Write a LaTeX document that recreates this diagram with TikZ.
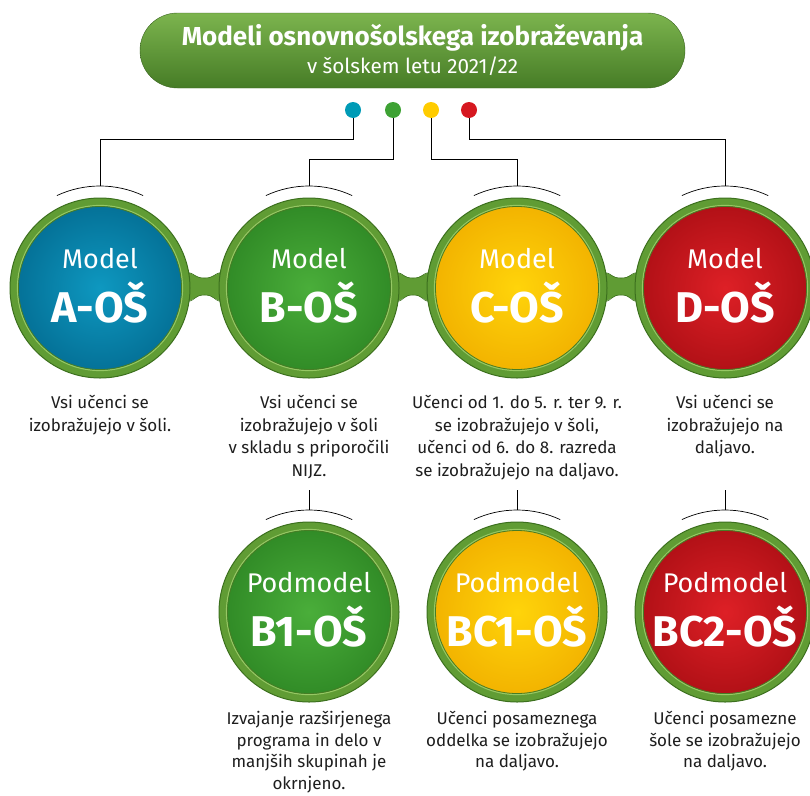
\documentclass[tikz,border=0pt]{standalone}
\usepackage{fontspec}
\setmainfont{Fira Sans}
\definecolor{ringG}{RGB}{96,156,52}
\definecolor{ringD}{RGB}{60,112,30}
\definecolor{ringL}{RGB}{150,200,100}
\definecolor{tealC}{RGB}{14,152,192}
\definecolor{tealD}{RGB}{4,112,150}
\definecolor{greenC}{RGB}{74,174,58}
\definecolor{greenD}{RGB}{48,138,38}
\definecolor{yelC}{RGB}{255,212,10}
\definecolor{yelD}{RGB}{242,178,0}
\definecolor{redC}{RGB}{222,32,38}
\definecolor{redD}{RGB}{176,16,22}
\definecolor{dotT}{RGB}{0,155,182}
\definecolor{dotG}{RGB}{62,162,52}
\definecolor{dotY}{RGB}{255,204,0}
\definecolor{dotR}{RGB}{214,24,32}
\definecolor{pillT}{RGB}{124,180,78}
\definecolor{pillB}{RGB}{70,124,38}
\definecolor{txt}{RGB}{30,30,30}
\tikzset{
  disc/.style={circle, minimum size=172pt, inner sep=0pt, line width=8pt, draw=ringG},
  rimout/.style={draw=ringD, line width=1pt},
  rimin/.style={draw=ringL, line width=1.2pt},
  conn/.style={draw=black, line width=0.8pt},
  arcline/.style={draw=black, line width=0.7pt},
  dotnode/.style={circle, minimum size=16pt, inner sep=0pt},
  small/.style={font=\fontsize{27}{30}\selectfont, text=white, anchor=base, inner sep=0pt},
  big/.style={font=\fontsize{43}{46}\selectfont\bfseries, text=white, anchor=base, inner sep=0pt},
  desc/.style={font=\fontsize{17}{22.5}\selectfont, text=txt, align=center, anchor=north, inner sep=0pt},
  descb/.style={desc, font=\fontsize{17}{21.6}\selectfont},
}
\newcommand\neckband[2]{%
  \fill[ringG] ({#1+80},271) .. controls ({#1+94},272) and ({(#1+#2)/2-10},278) .. ({(#1+#2)/2},278)
    .. controls ({(#1+#2)/2+10},278) and ({#2-94},272) .. ({#2-80},271)
    -- ({#2-80},303) .. controls ({#2-94},302) and ({(#1+#2)/2+10},295) .. ({(#1+#2)/2},295)
    .. controls ({(#1+#2)/2-10},295) and ({#1+94},302) .. ({#1+80},303) -- cycle;
  \draw[ringD, line width=0.6pt] ({#1+88},272.5) .. controls ({#1+96},274) and ({(#1+#2)/2-10},278) .. ({(#1+#2)/2},278)
    .. controls ({(#1+#2)/2+10},278) and ({#2-96},274) .. ({#2-88},272.5);
  \draw[ringD, line width=0.6pt] ({#1+88},301.5) .. controls ({#1+96},300) and ({(#1+#2)/2-10},295) .. ({(#1+#2)/2},295)
    .. controls ({(#1+#2)/2+10},295) and ({#2-96},300) .. ({#2-88},301.5);
}
\begin{document}
\begin{tikzpicture}[x=1pt, y=-1pt]
\useasboundingbox (0,0) rectangle (810,795);
% title pill
\node[rectangle, rounded corners=37.5pt, minimum width=545pt, minimum height=75pt,
      top color=pillT, bottom color=pillB, draw=pillB!80!black, line width=0.4pt] (title) at (412.5,50.5) {};
\node[font=\fontsize{26}{30}\selectfont\bfseries, text=white, anchor=base, inner sep=0pt] (t1) at (412.5,45) {Modeli osnovnošolskega izobraževanja};
\node[font=\fontsize{20.7}{24}\selectfont, text=white, anchor=base, inner sep=0pt] (t2) at (412.5,73) {v šolskem letu 2021/22};

% neck bands
\neckband{100}{309}
\neckband{309}{517}
\neckband{517}{725}

% circles top row
\node[disc, inner color=tealC, outer color=tealD] (cA) at (100,288) {};
\node[disc, inner color=greenC, outer color=greenD] (cB) at (309,288) {};
\node[disc, inner color=yelC, outer color=yelD] (cC) at (517,288) {};
\node[disc, inner color=redC, outer color=redD] (cD) at (725,288) {};
% circles second row
\node[disc, inner color=greenC, outer color=greenD] (cB1) at (309,612) {};
\node[disc, inner color=yelC, outer color=yelD] (cBC1) at (517,612) {};
\node[disc, inner color=redC, outer color=redD] (cBC2) at (725,612) {};

\foreach \c in {cA,cB,cC,cD,cB1,cBC1,cBC2}{
  \draw[rimout] (\c.center) circle[radius=90pt];
  \draw[rimin] (\c.center) circle[radius=82.5pt];
  \draw[ringD!70!ringG, line width=0.8pt] (\c.center) circle[radius=81.5pt];
  \draw[arcline] ([shift={(65:102pt)}]\c.center) arc[start angle=65, end angle=115, radius=102pt];
  \coordinate (\c top) at ([yshift=102pt]\c.center);
}

% circle labels
\node[small] (lA) at (100,268) {Model};
\node[big] (bA) at (100,322) {A-OŠ};
\node[small] (lB) at (309,268) {Model};
\node[big] (bB) at (309,322) {B-OŠ};
\node[small] (lC) at (517,268) {Model};
\node[big] (bC) at (517,322) {C-OŠ};
\node[small] (lD) at (725,268) {Model};
\node[big] (bD) at (725,322) {D-OŠ};
\node[small] (lB1) at (309,592) {Podmodel};
\node[big] (bB1) at (309,646) {B1-OŠ};
\node[small] (lBC1) at (517,592) {Podmodel};
\node[big] (bBC1) at (517,646) {BC1-OŠ};
\node[small] (lBC2) at (725,592) {Podmodel};
\node[big] (bBC2) at (725,646) {BC2-OŠ};

% dots and connectors
\node[dotnode] (dA) at (353,110) {};
\node[dotnode] (dB) at (393,110) {};
\node[dotnode] (dC) at (431,110) {};
\node[dotnode] (dD) at (469,110) {};
\draw[conn] (dA.south) -- ++(0,21) -| (cAtop);
\draw[conn] (dB.south) -- ++(0,41) -| (cBtop);
\draw[conn] (dC.south) -- ++(0,41) -| (cCtop);
\draw[conn] (dD.south) -- ++(0,21) -| (cDtop);
\node[dotnode, fill=dotT] at (dA) {};
\node[dotnode, fill=dotG] at (dB) {};
\node[dotnode, fill=dotY] at (dC) {};
\node[dotnode, fill=dotR] at (dD) {};

% descriptions
\node[desc] (xA) at (100,395) {Vsi učenci se\\izobražujejo v šoli.};
\node[desc] (xB) at (309,395) {Vsi učenci se\\izobražujejo v šoli\\v skladu s priporočili\\NIJZ.};
\node[desc] (xC) at (517,395) {Učenci od 1. do 5. r. ter 9. r.\\se izobražujejo v šoli,\\učenci od 6. do 8. razreda\\se izobražujejo na daljavo.};
\node[desc] (xD) at (725,395) {Vsi učenci se\\izobražujejo na\\daljavo.};

% second row connectors
\coordinate (sB1) at (309,490);
\coordinate (sBC1) at (517,490);
\coordinate (sBC2) at (725,490);
\draw[conn] (sB1) -- (cB1top);
\draw[conn] (sBC1) -- (cBC1top);
\draw[conn] (sBC2) -- (cBC2top);

\node[descb] (xB1) at (309,711) {Izvajanje razširjenega\\programa in delo v\\manjših skupinah je\\okrnjeno.};
\node[descb] (xBC1) at (517,711) {Učenci posameznega\\oddelka se izobražujejo\\na daljavo.};
\node[descb] (xBC2) at (725,711) {Učenci posamezne\\šole se izobražujejo\\na daljavo.};
\end{tikzpicture}
\end{document}
